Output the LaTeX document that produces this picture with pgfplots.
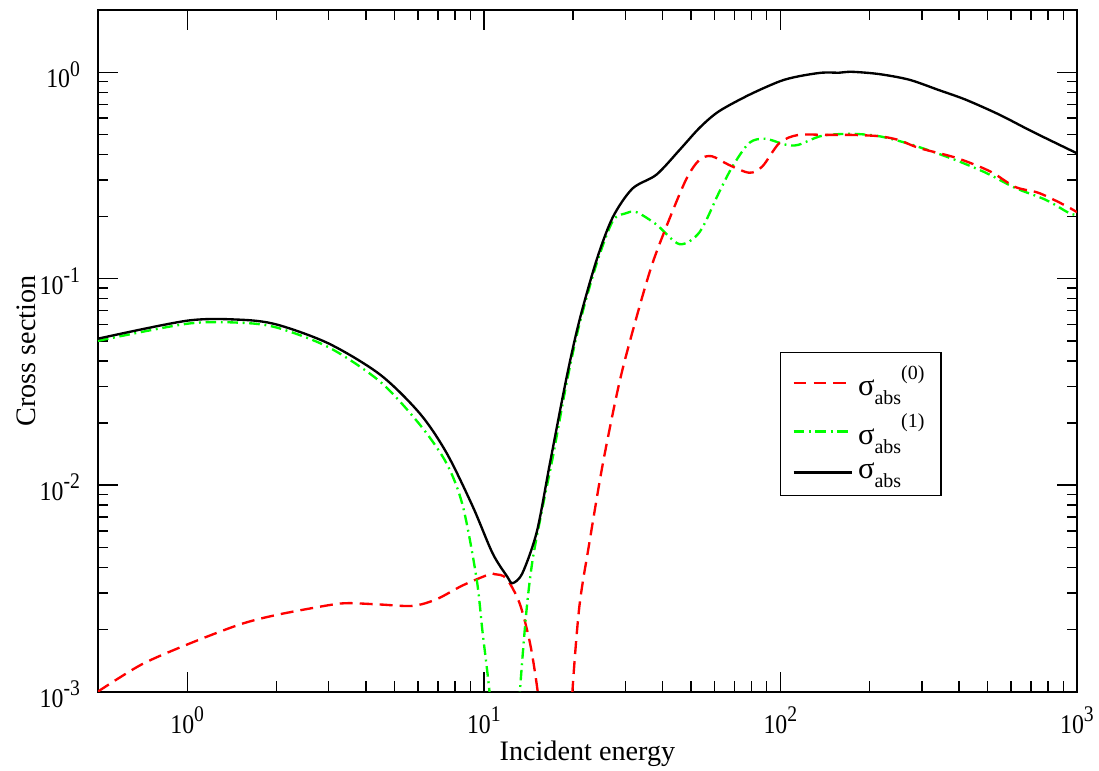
\documentclass[border=0pt]{standalone}
\usepackage{fontspec}
\setmainfont{Liberation Serif}
\newfontfamily\tickfont[FakeStretch=0.88]{Liberation Serif}
\usepackage{pgfplots}
\pgfplotsset{compat=1.18}
\newcommand{\tp}[1]{10\raisebox{5pt}{\fontsize{9.5}{10}\selectfont #1}}
\newcommand{\sig}[1]{σ\raisebox{-3.8pt}{\fontsize{8.5}{9}\selectfont abs}\raisebox{7pt}{\fontsize{8.5}{9}\selectfont #1}}
\begin{document}
\fontsize{12}{14}\selectfont
\begin{tikzpicture}
\begin{axis}[
  xmode=log, ymode=log,
  scale only axis,
  width=416.6pt, height=290pt,
  xmin=0.5, xmax=1000, ymin=0.001, ymax=2,
  axis line style={line width=0.85pt},
  every tick/.style={black, line width=0.6pt},
  major tick length=8.5pt, minor tick length=4.3pt,
  tick align=inside,
  xtick={1,10,100,1000},
  xticklabels={\tp{0},\tp{1},\tp{2},\tp{3}},
  ytick={0.001,0.01,0.1,1},
  yticklabels={\tp{-3},\tp{-2},\tp{-1},\tp{0}},
  ticklabel style={font=\tickfont\fontsize{11.5}{13}\selectfont},
  xticklabel style={anchor=north, inner sep=0pt, yshift=-6.4pt},
  yticklabel style={anchor=east, xshift=-3.5pt, yshift=-1pt},
  xlabel={Incident energy},
  ylabel={Cross section},
  xlabel style={at={(axis description cs:0.5,0)}, anchor=base, yshift=-29.4pt},
  ylabel style={at={(axis description cs:0,0.5)}, anchor=center, yshift=30.6pt},
  legend style={at={(0.6966,0.4985)}, anchor=north west, draw=black, line width=0.6pt,
    row sep=2pt, inner xsep=5pt, inner ysep=3.5pt, font=\fontsize{13}{15}\selectfont},
  legend cell align=left,
  legend image code/.code={\draw[#1] (0pt,0pt) -- (25pt,0pt);},
]
\addplot[red, line width=1pt, dash pattern=on 5.5pt off 3pt, smooth] coordinates {
(0.5,0.00100) (0.7,0.00135) (1.0,0.00169) (1.5,0.00211) (2.0,0.00235) (3.0,0.00262)
(3.5,0.00268) (4.47,0.00264) (5.76,0.00260) (6.93,0.0028) (8.5,0.00327) (10.4,0.00369)
(10.9,0.0037) (11.9,0.00354) (13.2,0.00268) (14.3,0.00173) (15.1,0.00107) (15.6,0.0007)
(16.5,0.0003)
};
\addlegendentry{\sig{(0)}}
\addplot[green, line width=1pt, dash pattern=on 4.5pt off 2pt on 0.8pt off 2pt, smooth] coordinates {
(0.5,0.0500) (1.0,0.0605) (1.5,0.0612) (2.0,0.0580) (3.0,0.0465) (4.47,0.0317)
(6.09,0.0196) (7.5,0.0127) (8.5,0.0079) (9.45,0.00354) (9.9,0.00195) (10.4,0.00107)
(10.8,0.0006) (11.3,0.0002) (12.4,0.0002) (12.9,0.0005)
(13.2,0.00095) (13.9,0.00239) (14.6,0.00432) (15.8,0.00787) (17.1,0.01374) (19.0,0.031)
(21.0,0.060) (24.0,0.118) (27.2,0.190) (30.0,0.207) (32.7,0.210) (38.2,0.183)
(45.7,0.147) (53.4,0.168) (62,0.26) (69,0.350) (78.6,0.455) (89,0.476) (104,0.446)
(115,0.445) (138,0.492) (174,0.503) (215,0.49) (266,0.454) (325,0.413) (400,0.370)
(495,0.325) (620,0.275) (785,0.241) (935,0.209) (1000,0.203)
};
\addlegendentry{\sig{(1)}}
\addplot[black, line width=1pt, smooth] coordinates {
(0.5,0.0512) (1.0,0.0626) (1.5,0.0633) (2.0,0.0600) (3.0,0.0485) (4.47,0.0343)
(6.09,0.0222) (7.5,0.01427) (9.18,0.00787) (10.7,0.00468) (12.0,0.0036) (12.5,0.00335)
(13.5,0.00375) (15.1,0.00596) (16.7,0.0127) (19.0,0.033) (21.0,0.0626) (24.0,0.123)
(27.2,0.198) (31.7,0.273) (38.2,0.319) (45.7,0.42) (53.4,0.538) (62,0.646) (78.6,0.778)
(99.4,0.903) (115,0.955) (138,0.995) (158,0.995) (174,1.005) (215,0.98) (272,0.92)
(342,0.82) (422,0.736) (549,0.622) (707,0.516) (1000,0.405)
};
\addlegendentry{σ\raisebox{-3.8pt}{\fontsize{8.5}{9}\selectfont abs}}
\addplot[red, line width=1pt, dash pattern=on 5.5pt off 3pt, smooth, forget plot] coordinates {
(19.3,0.0004) (19.9,0.0010) (21.0,0.00258) (22.7,0.00526) (25.2,0.0127) (28.7,0.0317)
(32.7,0.0647) (37.0,0.118) (42.4,0.197) (48.3,0.306) (53.4,0.377) (58.7,0.392)
(67,0.356) (78.6,0.326) (87,0.35) (99.4,0.455) (115,0.497) (142,0.497) (174,0.497)
(215,0.49) (250,0.47) (293,0.43) (380,0.39) (445,0.36) (520,0.326) (620,0.278)
(745,0.26) (915,0.226) (1000,0.21)
};
\end{axis}
\pgfresetboundingbox
\path (current axis.south west) ++(-41.7pt,-33.6pt) coordinate (bbA);
\path (current axis.north east) ++(9.4pt,4.3pt) coordinate (bbB);
\useasboundingbox (bbA) rectangle (bbB);
\end{tikzpicture}
\end{document}
